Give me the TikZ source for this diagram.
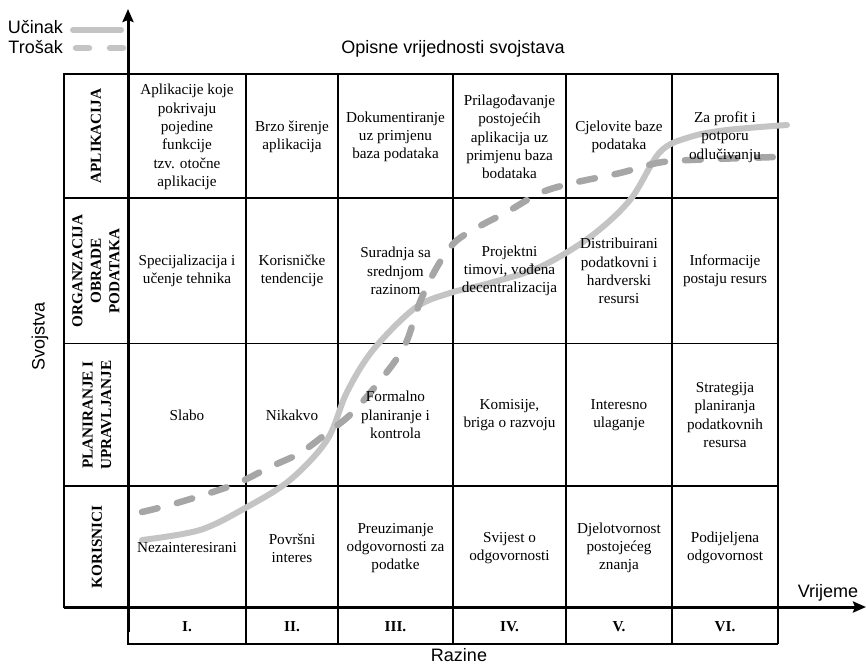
\documentclass[tikz,border=0pt]{standalone}
\usepackage{fontspec}
\setmainfont{Liberation Serif}
\setsansfont{Liberation Sans}
\usetikzlibrary{arrows.meta}
\begin{document}
\begin{tikzpicture}[x=1pt,y=-1pt,
  gridline/.style={line width=1.1pt, black},
  axisline/.style={line width=3pt, -{Stealth[length=13pt,width=11pt,inset=2pt]}},
  cell/.style={font=\fontsize{15.2}{18.3}\selectfont, align=center, inner sep=0pt},
  rowhead/.style={font=\fontsize{15.2}{18.5}\selectfont\bfseries, align=center, rotate=90, inner sep=0pt},
  lvl/.style={font=\fontsize{15.2}{18}\selectfont\bfseries, inner sep=0pt},
  lab/.style={font=\sffamily\fontsize{18}{20}\selectfont, inner sep=0pt},
  ucinak/.style={line width=6pt, color=black!23, line cap=round},
  trosak/.style={line width=6.5pt, color=black!35, line cap=round, dash pattern=on 16pt off 20pt},
]
\useasboundingbox (0,0) rectangle (866,667);

% grid
\draw[gridline] (64,74) rectangle (778,607);
\foreach \yy in {198,343.5,486} \draw[gridline] (64,\yy) -- (778,\yy);
\foreach \xx in {246,338,453,566,672,778} \draw[gridline] (\xx,74) -- (\xx,644);
\draw[gridline] (128,607) -- (128,644) -- (778,644);

% axes
\coordinate (yb) at (128,632);
\coordinate (yt) at (128,9);
\coordinate (xl) at (64,607);
\coordinate (xr) at (866,607);
\draw[axisline] (yb) -- (yt);
\draw[axisline] (xl) -- (xr);

% legend
\coordinate (l1a) at (73,30); \coordinate (l1b) at (121,30);
\coordinate (l2a) at (76,48); \coordinate (l2b) at (124,48);
\draw[ucinak] (l1a) -- (l1b);
\draw[line width=6.5pt, color=black!23, line cap=round, dash pattern=on 13pt off 21pt] (l2a) -- (l2b);
\node[lab, anchor=base east] (leg1) at (63,33) {Učinak};
\node[lab, anchor=base east] (leg2) at (63,53) {Trošak};

% curves
\draw[ucinak] plot[smooth, tension=0.55] coordinates {(142,540) (200,530) (247,507) (290,480) (327,440) (347,392) (373,350) (415,308) (450,293) (490,283) (540,267) (590,237) (630,200) (660,152) (690,137) (727,130) (787,125)};
\draw[trosak] plot[smooth, tension=0.55] coordinates {(142,512) (177,503) (233,485) (270,467) (300,453) (327,433) (352,413) (383,377) (405,345) (420,302) (437,267) (455,242) (480,226) (507,212) (540,193) (573,183) (620,173) (657,163) (690,160) (777,157)};

% labels
\node[lab, anchor=base] (title) at (453,53) {Opisne vrijednosti svojstava};
\node[lab, anchor=base] (vrijeme) at (828,597) {Vrijeme};
\node[lab, anchor=base] (razine) at (459,661) {Razine};
\node[lab, rotate=90] (svojstva) at (40,336) {Svojstva};

% row headers
\node[rowhead] (h1) at (96,136) {APLIKACIJA};
\node[rowhead] (h2) at (96,271) {ORGANZACIJA\\OBRADE\\PODATAKA};
\node[rowhead] (h3) at (97,415) {PLANIRANJE I\\UPRAVLJANJE};
\node[rowhead] (h4) at (97,547) {KORISNICI};

% row 1
\node[cell] (a1) at (187,137) {Aplikacije koje\\pokrivaju\\pojedine\\funkcije\\tzv. otočne\\aplikacije};
\node[cell] (a2) at (292,137) {Brzo širenje\\aplikacija};
\node[cell] (a3) at (395.5,137) {Dokumentiranje\\uz primjenu\\baza podataka};
\node[cell] (a4) at (509.5,137) {Prilagođavanje\\postojećih\\aplikacija uz\\primjenu baza\\bodataka};
\node[cell] (a5) at (619,137) {Cjelovite baze\\podataka};
\node[cell] (a6) at (725,137) {Za profit i\\potporu\\odlučivanju};

% row 2
\node[cell] (b1) at (187,271) {Specijalizacija i\\učenje tehnika};
\node[cell] (b2) at (292,271) {Korisničke\\tendencije};
\node[cell] (b3) at (395.5,271) {Suradnja sa\\srednjom\\razinom};
\node[cell] (b4) at (509.5,271) {Projektni\\timovi, vođena\\decentralizacija};
\node[cell] (b5) at (619,271) {Distribuirani\\podatkovni i\\hardverski\\resursi};
\node[cell] (b6) at (725,271) {Informacije\\postaju resurs};

% row 3
\node[cell] (c1) at (187,415) {Slabo};
\node[cell] (c2) at (292,415) {Nikakvo};
\node[cell] (c3) at (395.5,415) {Formalno\\planiranje i\\kontrola};
\node[cell] (c4) at (509.5,415) {Komisije,\\briga o razvoju};
\node[cell] (c5) at (619,415) {Interesno\\ulaganje};
\node[cell] (c6) at (725,415) {Strategija\\planiranja\\podatkovnih\\resursa};

% row 4
\node[cell] (d1) at (187,548) {Nezainteresirani};
\node[cell] (d2) at (292,548) {Površni\\interes};
\node[cell] (d3) at (395.5,548) {Preuzimanje\\odgovornosti za\\podatke};
\node[cell] (d4) at (509.5,548) {Svijest o\\odgovornosti};
\node[cell] (d5) at (619,548) {Djelotvornost\\postojećeg\\znanja};
\node[cell] (d6) at (725,548) {Podijeljena\\odgovornost};

% levels
\node[lvl] (v1) at (187,627) {I.};
\node[lvl] (v2) at (292,627) {II.};
\node[lvl] (v3) at (395.5,627) {III.};
\node[lvl] (v4) at (509.5,627) {IV.};
\node[lvl] (v5) at (619,627) {V.};
\node[lvl] (v6) at (725,627) {VI.};
\end{tikzpicture}
\end{document}
